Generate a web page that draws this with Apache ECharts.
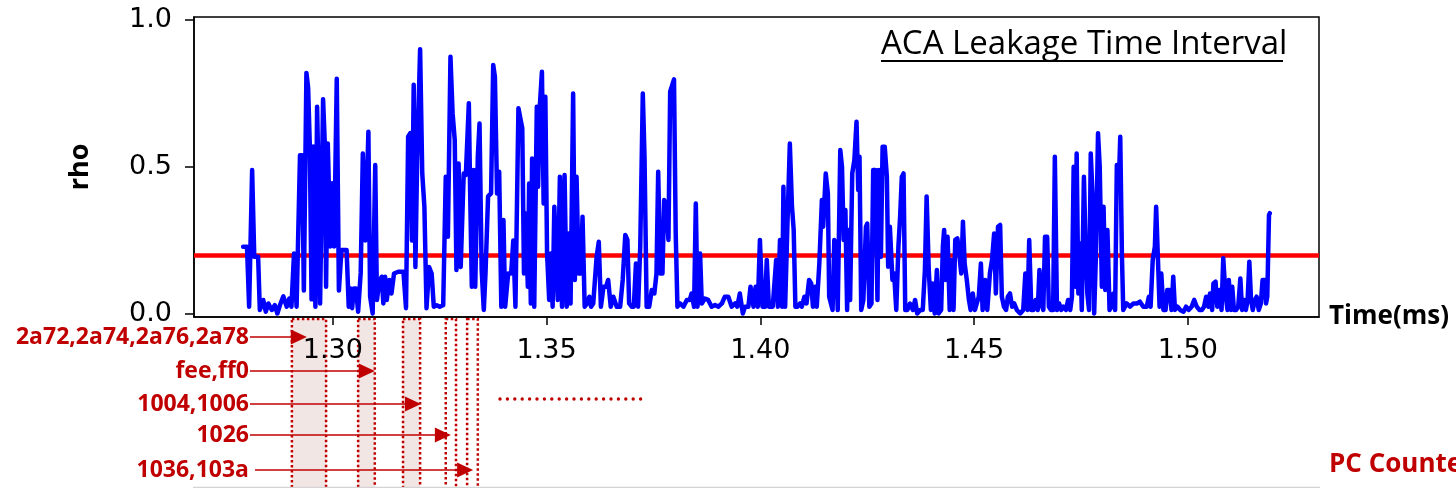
<!DOCTYPE html>
<html>
<head>
<meta charset="utf-8">
<title>ACA Leakage Time Interval</title>
<script src="https://cdn.jsdelivr.net/npm/echarts@6.0.0/dist/echarts.min.js"></script>
<style>
  html, body { margin: 0; padding: 0; background: #fff; }
  #main { width: 1456px; height: 488px; }
</style>
</head>
<body>
<div id="main"></div>
<script>
// time of each sample (ms)
var timeMs = [
  1.2790,1.2799,1.2804,1.2811,1.2816,1.2825,1.2829,1.2837,1.2843,1.2849,
  1.2857,1.2864,1.2870,1.2876,1.2884,1.2892,1.2898,1.2903,1.2909,1.2915,
  1.2923,1.2928,1.2932,1.2938,1.2942,1.2946,1.2950,1.2954,1.2959,1.2963,
  1.2967,1.2970,1.2977,1.2981,1.2984,1.2988,1.2991,1.2994,1.2998,1.3003,
  1.3009,1.3014,1.3020,1.3032,1.3037,1.3041,1.3045,1.3049,1.3054,1.3059,
  1.3065,1.3070,1.3076,1.3083,1.3087,1.3093,1.3099,1.3103,1.3108,1.3114,
  1.3118,1.3122,1.3126,1.3132,1.3137,1.3143,1.3153,1.3165,1.3171,1.3176,
  1.3181,1.3185,1.3189,1.3193,1.3197,1.3204,1.3209,1.3214,1.3219,1.3225,
  1.3231,1.3236,1.3243,1.3250,1.3258,1.3264,1.3269,1.3275,1.3280,1.3285,
  1.3289,1.3294,1.3299,1.3306,1.3311,1.3318,1.3321,1.3325,1.3329,1.3333,
  1.3339,1.3343,1.3348,1.3353,1.3357,1.3363,1.3370,1.3375,1.3379,1.3384,
  1.3389,1.3394,1.3399,1.3403,1.3410,1.3417,1.3422,1.3427,1.3434,
  1.3443,1.3447,1.3451,1.3456,1.3459,1.3463,1.3466,1.3471,1.3477,1.3480,
  1.3484,1.3489,1.3493,1.3497,1.3501,1.3506,1.3510,1.3514,1.3518,1.3522,
  1.3526,1.3531,1.3536,1.3542,1.3547,1.3552,1.3556,1.3562,1.3566,1.3570,
  1.3575,1.3580,1.3584,1.3589,1.3595,1.3600,1.3604,1.3609,1.3617,1.3622,
  1.3627,1.3633,1.3639,1.3644,1.3650,1.3656,1.3664,1.3672,1.3678,1.3684,
  1.3689,1.3693,1.3699,1.3704,1.3709,1.3714,1.3719,1.3725,1.3729,1.3734,
  1.3740,1.3746,1.3752,1.3757,1.3761,1.3766,1.3771,1.3775,1.3780,1.3785,
  1.3789,1.3793,1.3798,1.3802,1.3806,1.3812,1.3820,1.3828,1.3835,1.3839,
  1.3845,1.3849,1.3853,1.3859,1.3863,1.3870,1.3878,1.3886,1.3894,1.3902,
  1.3910,1.3917,1.3925,1.3933,1.3941,1.3946,1.3952,1.3959,1.3964,1.3972,
  1.3977,1.3984,1.3989,1.3994,1.3999,1.4005,1.4011,1.4015,1.4020,1.4024,
  1.4029,1.4037,1.4041,1.4046,1.4051,1.4054,1.4058,1.4063,1.4069,1.4074,
  1.4078,1.4082,1.4087,1.4093,1.4097,1.4103,1.4108,1.4114,1.4119,1.4123,
  1.4128,1.4132,1.4138,1.4144,1.4147,1.4153,1.4158,1.4161,
  1.4165,1.4169,1.4173,1.4177,1.4181,1.4187,1.4191,1.4195,1.4199,1.4203,
  1.4207,1.4210,1.4215,1.4220,1.4225,1.4229,1.4232,1.4236,1.4241,1.4247,
  1.4250,1.4255,1.4260,1.4264,1.4269,1.4274,1.4277,1.4282,1.4286,1.4291,
  1.4296,1.4299,1.4303,1.4309,1.4313,1.4318,1.4323,1.4327,1.4331,1.4335,
  1.4339,1.4344,1.4350,1.4357,1.4362,1.4367,1.4374,1.4380,1.4385,1.4389,
  1.4394,1.4399,1.4403,1.4408,1.4413,1.4417,1.4423,1.4427,1.4430,1.4434,
  1.4438,1.4443,1.4448,1.4452,1.4456,1.4461,1.4466,1.4470,1.4474,1.4478,
  1.4483,1.4488,1.4492,1.4497,1.4502,1.4506,1.4511,1.4516,1.4520,1.4526,
  1.4531,1.4537,1.4542,1.4547,1.4551,1.4556,1.4561,1.4565,1.4570,1.4575,
  1.4579,1.4584,1.4589,1.4594,1.4600,1.4608,1.4615,1.4620,1.4625,1.4629,
  1.4634,1.4639,1.4644,1.4649,1.4653,1.4657,1.4662,1.4666,1.4671,1.4675,
  1.4680,1.4685,1.4689,1.4694,1.4699,1.4704,1.4709,1.4715,1.4720,1.4725,
  1.4729,1.4733,1.4737,1.4740,1.4744,1.4748,1.4752,1.4757,1.4761,1.4765,
  1.4769,1.4773,1.4777,1.4781,1.4785,1.4790,1.4794,
  1.4799,1.4803,1.4807,1.4812,1.4817,1.4821,1.4826,1.4830,1.4834,1.4839,
  1.4842,1.4846,1.4849,1.4857,1.4865,1.4873,1.4881,1.4888,1.4896,1.4904,
  1.4909,1.4913,1.4918,1.4923,1.4926,1.4930,1.4934,1.4938,1.4943,1.4948,
  1.4952,1.4957,1.4962,1.4966,1.4970,1.4976,1.4982,1.4990,1.4996,1.5002,
  1.5009,1.5015,1.5021,1.5027,1.5033,1.5038,1.5043,1.5048,1.5052,1.5057,
  1.5060,1.5065,1.5069,1.5074,1.5079,1.5083,1.5088,1.5093,1.5096,1.5101,
  1.5104,1.5108,1.5113,1.5118,1.5123,1.5127,1.5132,1.5136,1.5140,1.5144,
  1.5148,1.5152,1.5157,1.5161,1.5166,1.5171,1.5175,1.5180,1.5183,1.5186,
  1.5190,1.5192
];

// correlation rho at each sample
var rho = [
  0.229,0.229,0.025,0.49,0.195,0.195,0.014,0.048,0.008,0.036,
  0.014,0.03,0.002,0.03,0.06,0.025,0.053,0.025,0.206,0.025,
  0.54,0.54,0.08,0.82,0.77,0.57,0.05,0.57,0.025,0.705,
  0.41,0.036,0.73,0.58,0.093,0.58,0.58,0.23,0.445,0.23,
  0.80,0.08,0.218,0.218,0.025,0.087,0.02,0.087,0.087,0.008,
  0.14,0.546,0.25,0.62,0.06,0.002,0.507,0.048,0.104,0.127,
  0.036,0.127,0.048,0.116,0.07,0.138,0.144,0.144,0.02,0.603,
  0.615,0.25,0.78,0.16,0.52,0.90,0.478,0.365,0.02,0.16,
  0.138,0.025,0.03,0.025,0.03,0.467,0.263,0.875,0.683,0.592,
  0.15,0.512,0.16,0.478,0.473,0.717,0.42,0.093,0.49,0.093,
  0.535,0.648,0.15,0.014,0.138,0.40,0.41,0.847,0.807,0.41,
  0.484,0.025,0.32,0.025,0.138,0.138,0.25,0.025,0.70,
  0.632,0.138,0.342,0.093,0.444,0.036,0.529,0.025,0.705,0.433,
  0.705,0.824,0.376,0.739,0.206,0.048,0.206,0.025,0.365,0.365,
  0.048,0.467,0.025,0.473,0.025,0.274,0.036,0.75,0.116,0.467,
  0.138,0.138,0.331,0.025,0.036,0.059,0.025,0.036,0.195,0.246,
  0.025,0.093,0.093,0.116,0.025,0.059,0.025,0.025,0.116,0.269,
  0.252,0.036,0.025,0.025,0.172,0.025,0.229,0.75,0.535,0.025,
  0.025,0.082,0.07,0.138,0.484,0.138,0.138,0.388,0.365,0.252,
  0.756,0.762,0.798,0.274,0.025,0.036,0.025,0.048,0.048,0.07,
  0.025,0.376,0.025,0.206,0.036,0.053,0.048,0.025,0.031,0.025,
  0.036,0.059,0.059,0.025,0.036,0.025,0.07,0.002,0.025,0.025,
  0.093,0.025,0.093,0.025,0.252,0.025,0.025,0.184,0.025,0.025,
  0.025,0.184,0.025,0.252,0.025,0.433,0.025,0.286,0.58,0.365,
  0.286,0.025,0.025,0.036,0.025,0.059,0.036,0.116,0.104,0.025,
  0.093,0.025,0.172,0.388,0.297,0.478,0.41,0.059,
  0.059,0.014,0.252,0.229,0.014,0.558,0.501,0.252,0.354,0.014,
  0.286,0.048,0.478,0.524,0.654,0.422,0.535,0.014,0.048,0.297,
  0.308,0.025,0.036,0.49,0.49,0.048,0.49,0.195,0.569,0.569,
  0.467,0.161,0.297,0.116,0.138,0.014,0.229,0.331,0.467,0.478,
  0.014,0.014,0.036,0.014,0.048,0.002,0.014,0.014,0.15,0.40,
  0.15,0.014,0.104,0.002,0.15,0.002,0.014,0.229,0.286,0.116,
  0.263,0.014,0.184,0.014,0.252,0.257,0.195,0.138,0.314,0.172,
  0.116,0.048,0.014,0.07,0.014,0.014,0.059,0.172,0.014,0.116,
  0.014,0.138,0.184,0.274,0.07,0.297,0.303,0.059,0.025,0.014,
  0.059,0.07,0.025,0.036,0.014,0.002,0.014,0.138,0.014,0.252,
  0.014,0.014,0.048,0.014,0.15,0.036,0.014,0.263,0.263,0.025,
  0.014,0.014,0.535,0.014,0.036,0.014,0.025,0.014,0.048,0.014,
  0.059,0.501,0.093,0.546,0.07,0.24,0.014,0.467,0.229,0.07,
  0.014,0.546,0.41,0.002,0.195,0.615,0.501,
  0.093,0.365,0.082,0.286,0.014,0.025,0.07,0.014,0.507,0.456,
  0.603,0.195,0.014,0.036,0.025,0.036,0.036,0.042,0.025,0.025,
  0.059,0.025,0.184,0.229,0.365,0.195,0.025,0.138,0.014,0.014,
  0.082,0.082,0.014,0.127,0.014,0.025,0.014,0.008,0.025,0.014,
  0.025,0.048,0.025,0.014,0.014,0.025,0.059,0.025,0.07,0.014,
  0.104,0.11,0.025,0.082,0.014,0.19,0.07,0.014,0.116,0.014,
  0.093,0.014,0.014,0.025,0.121,0.014,0.048,0.014,0.048,0.178,
  0.048,0.014,0.048,0.059,0.014,0.036,0.116,0.116,0.036,0.059,
  0.337,0.343
];

var threshold = 0.2;
var xTicks = [1.30, 1.35, 1.40, 1.45, 1.50];
var yTicks = [0.0, 0.5, 1.0];

// PC counter values and the time windows (ms) they cover
var pcLabels = ['2a72,2a74,2a76,2a78', 'fee,ff0', '1004,1006', '1026', '1036,103a'];
var pcWindows = [[1.2904, 1.2984], [1.3059, 1.3098], [1.3164, 1.3204], [1.3264, 1.3288], [1.3314, 1.3339]];
var pcArrowTips = [1.2939, 1.3098, 1.3206, 1.3276, 1.3328];

var RED = '#c00000';

var chart = echarts.init(document.getElementById('main'));

var option = {
  animation: false,
  grid: {
    left: 194, right: 137, top: 17, bottom: 171,
    show: true, borderColor: '#000', borderWidth: 1.5
  },
  xAxis: {
    type: 'value',
    min: 1.2675,
    max: 1.5307,
    name: 'Time(ms)',
    nameLocation: 'end',
    nameGap: 10,
    nameTextStyle: {
      fontFamily: 'Open Sans', fontWeight: 'bold', fontSize: 26, color: '#000',
      align: 'left', verticalAlign: 'middle', padding: [56, 0, 0, 0]
    },
    axisLine: { onZero: false, lineStyle: { color: '#000', width: 1.5 } },
    axisTick: { inside: false, length: 8, customValues: xTicks, lineStyle: { color: '#000', width: 1.5 } },
    axisLabel: {
      customValues: xTicks,
      formatter: function (v) { return v.toFixed(2); },
      fontFamily: 'DejaVu Sans', fontSize: 27, color: '#000', margin: 20
    },
    splitLine: { show: false }
  },
  yAxis: {
    type: 'value',
    min: -0.01,
    max: 1.01,
    name: 'rho',
    nameLocation: 'middle',
    nameGap: 100,
    nameRotate: 90,
    nameTextStyle: { fontFamily: 'Open Sans', fontWeight: 'bold', fontSize: 27, color: '#000' },
    axisLine: { lineStyle: { color: '#000', width: 1.5 } },
    axisTick: { inside: false, length: 9, customValues: yTicks, lineStyle: { color: '#000', width: 1.5 } },
    axisLabel: {
      customValues: yTicks,
      formatter: function (v) { return v.toFixed(1); },
      fontFamily: 'DejaVu Sans', fontSize: 27, color: '#000', margin: 22
    },
    splitLine: { show: false }
  },
  series: [{
    name: 'rho',
    type: 'line',
    data: timeMs.map(function (t, i) { return [t, rho[i]]; }),
    showSymbol: false,
    symbol: 'none',
    z: 3,
    lineStyle: { color: '#0000ff', width: 4.5, join: 'round', cap: 'round' },
    itemStyle: { color: '#0000ff' },
    markLine: {
      silent: true,
      z: 1,
      symbol: ['none', 'none'],
      label: { show: false },
      lineStyle: { color: '#ff0000', width: 4.5, type: 'solid' },
      data: [{ yAxis: threshold }]
    }
  }]
};

chart.setOption(option);

// annotation layer: PC counter windows under the time axis
function px(t) {
  return chart.convertToPixel({ gridIndex: 0 }, [t, 0])[0];
}

var rowY = [337, 371, 404, 435, 470];
var elements = [];

pcWindows.forEach(function (w, i) {
  var x0 = px(w[0]), x1 = px(w[1]);
  elements.push({
    type: 'rect', z: -1,
    shape: { x: x0, y: 319, width: x1 - x0, height: 180 },
    style: { fill: i < 3 ? '#f2e6e4' : 'rgba(0,0,0,0)', stroke: RED, lineWidth: 2.5, lineDash: [2.5, 2.5] }
  });
});

pcLabels.forEach(function (lab, i) {
  var y = rowY[i];
  var tip = px(pcArrowTips[i]);
  var start = i === 4 ? 255 : 250;
  elements.push({
    type: 'text', z: 10, x: 249, y: y,
    style: { text: lab, font: 'bold 23px "Open Sans"', fill: RED, align: 'right', verticalAlign: 'middle' }
  });
  elements.push({
    type: 'line', z: 10,
    shape: { x1: start, y1: y, x2: tip - 10, y2: y },
    style: { stroke: RED, lineWidth: 1.6 }
  });
  elements.push({
    type: 'polygon', z: 10,
    shape: { points: [[tip, y], [tip - 16, y - 7.5], [tip - 16, y + 7.5]] },
    style: { fill: RED }
  });
});

// "more windows follow" dotted mark
elements.push({
  type: 'line', z: 10,
  shape: { x1: 500, y1: 399, x2: 641, y2: 399 },
  style: { stroke: RED, lineWidth: 3.4, lineDash: [0, 7.4], lineCap: 'round' }
});

elements.push({
  type: 'text', z: 10, x: 1329, y: 465,
  style: { text: 'PC Counter', font: 'bold 26px "Open Sans"', fill: RED, verticalAlign: 'middle' }
});

elements.push({
  type: 'line', z: 10,
  shape: { x1: 193, y1: 487.5, x2: 1320, y2: 487.5 },
  style: { stroke: '#d4d4d4', lineWidth: 1.5 }
});

// title in the plot corner, underlined
elements.push({
  type: 'text', z: 10, x: 881, y: 45,
  style: { text: 'ACA Leakage Time Interval', font: '33px "Open Sans"', fill: '#000', verticalAlign: 'middle' }
});
elements.push({
  type: 'line', z: 10,
  shape: { x1: 881, y1: 61, x2: 1283, y2: 61 },
  style: { stroke: '#000', lineWidth: 2 }
});

chart.setOption({ graphic: elements });
</script>
</body>
</html>
